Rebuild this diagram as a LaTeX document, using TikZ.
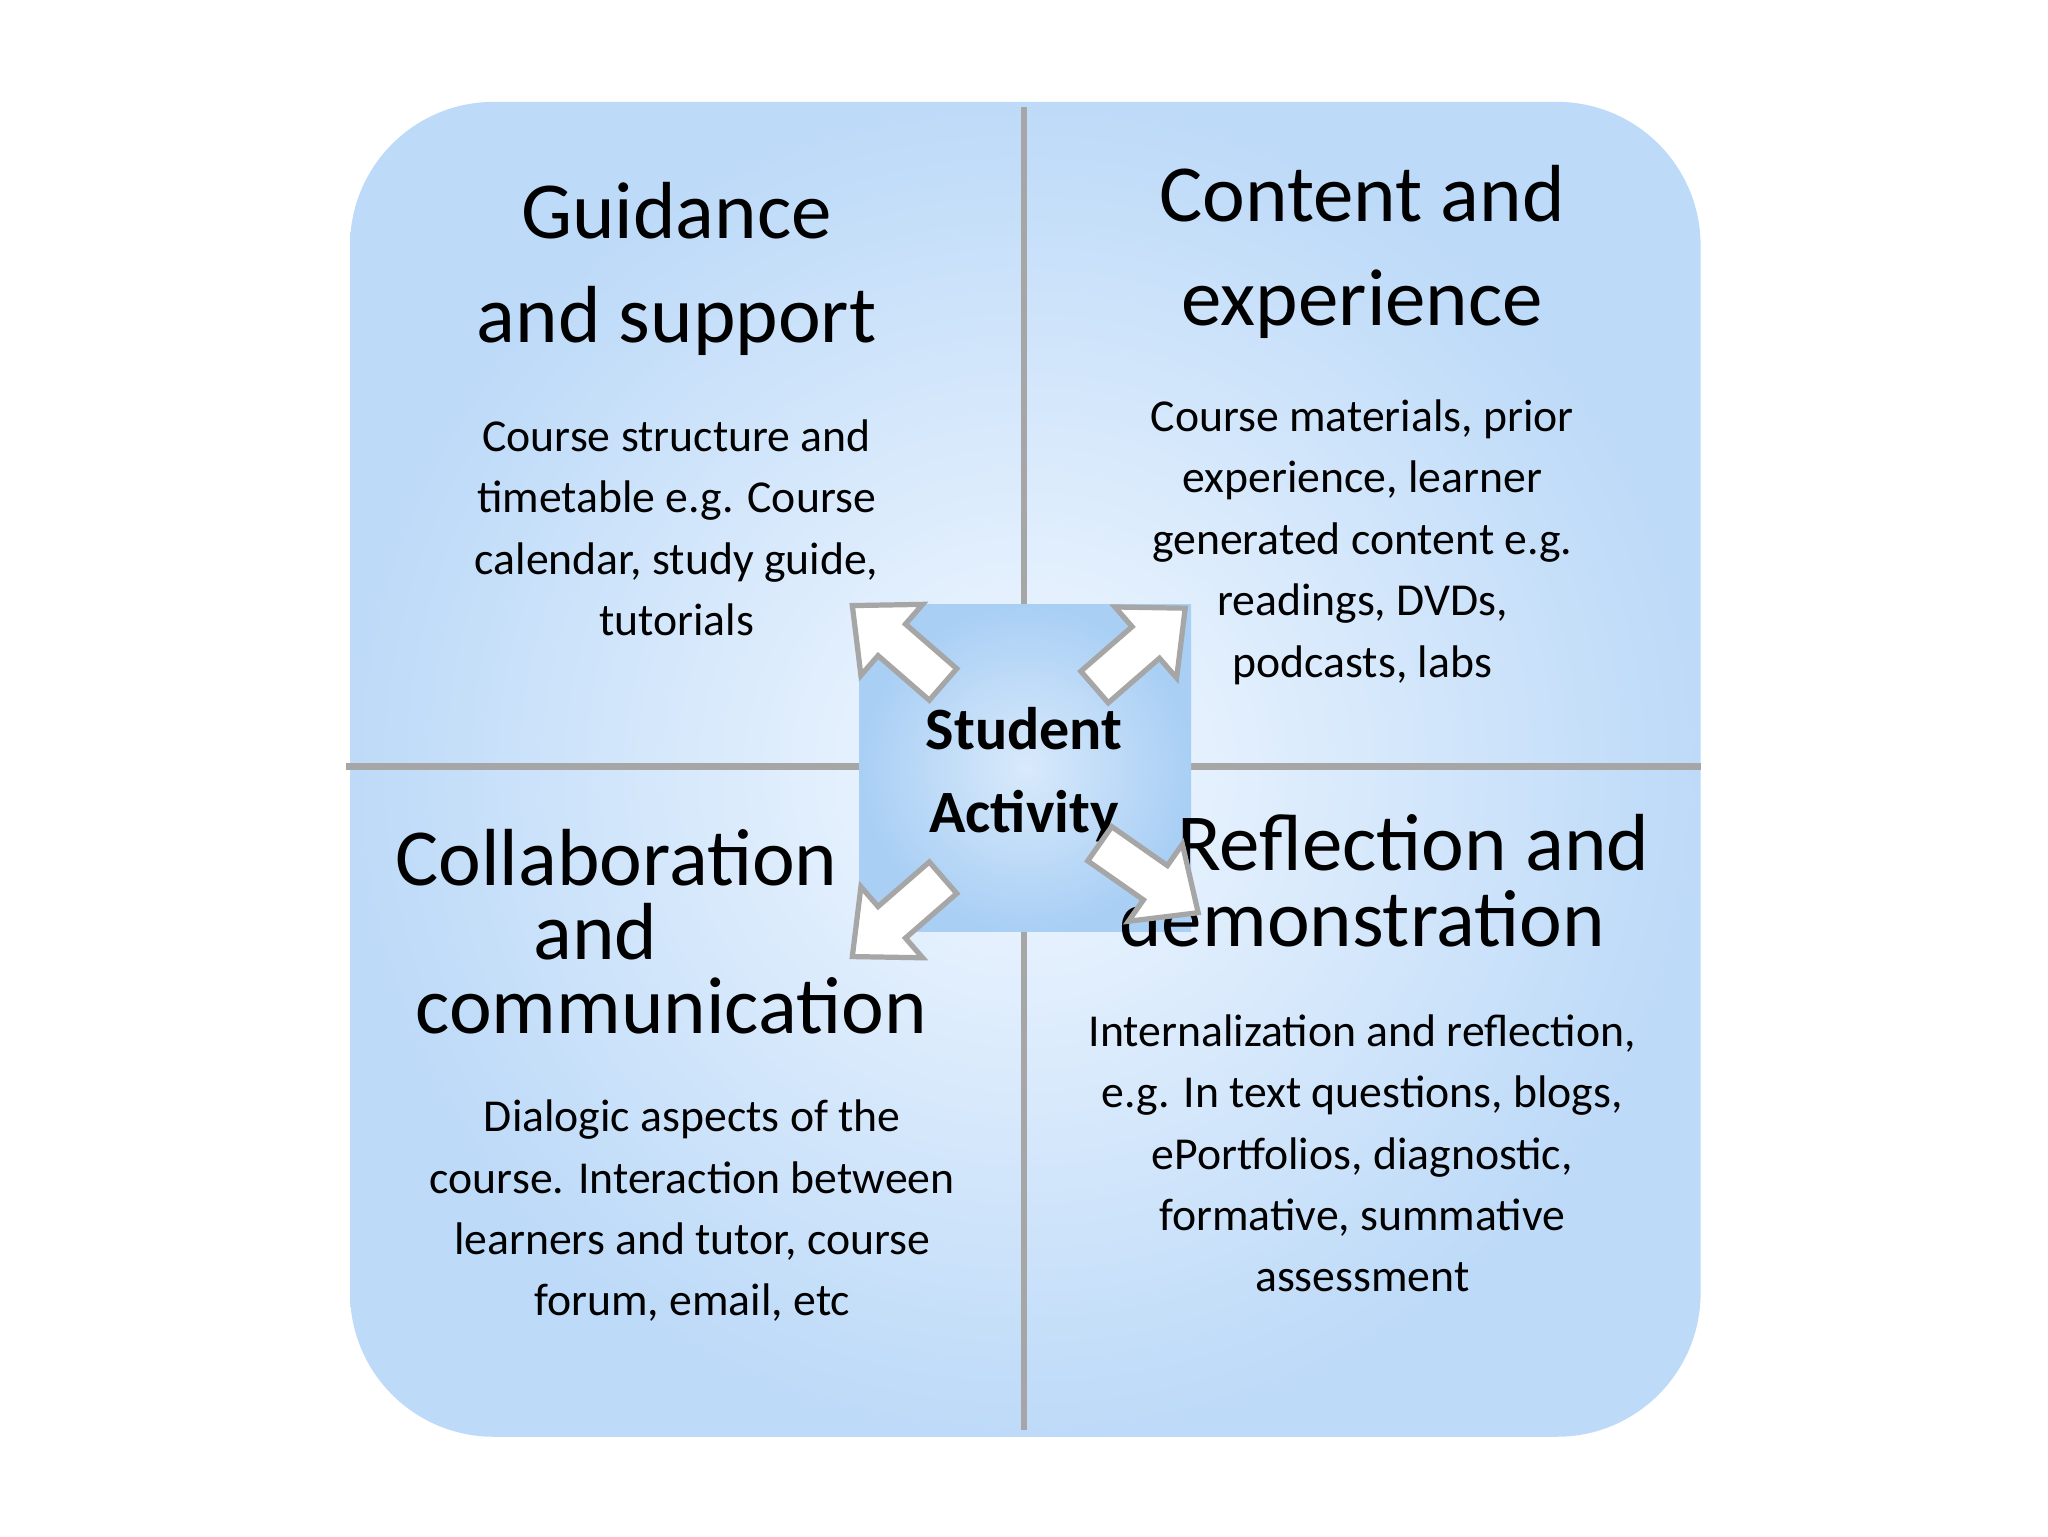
\documentclass[tikz,border=0pt]{standalone}
\usepackage{fontspec}
\setmainfont{Carlito}
\definecolor{bgblue}{HTML}{BDDAF8}
\definecolor{midblue}{HTML}{F2F8FF}
\definecolor{sqblue}{HTML}{A9CFF5}
\definecolor{divgray}{HTML}{A6A6A6}
\tikzset{
  ttl/.style={align=center,font=\fontsize{62}{80}\selectfont},
  body/.style={align=center,font=\fontsize{35}{47}\selectfont},
  divider/.style={draw=divgray,line width=5pt},
  blockarrow/.style={fill=white,draw=divgray,line width=4pt,line join=miter}
}
\begin{document}
\begin{tikzpicture}[x=1pt,y=-1pt]
\useasboundingbox (0,0) rectangle (1568,1176);
\fill[white] (0,0) rectangle (1568,1176);
\shade[inner color=midblue,outer color=bgblue,rounded corners=110pt] (268,78) rectangle (1302,1100);
\draw[divider] (784,82) -- (784,1095);
\draw[divider] (265,587) -- (1302,587);
\node (gtitle) [ttl] at (518,206) {Guidance\\and support};
\node (ctitle) [ttl] at (1043,193) {Content and\\experience};
\node (gbody) [body] at (518,404) {Course structure and\\timetable e.g. Course\\calendar, study guide,\\tutorials};
\node (cbody) [body] at (1043,415) {Course materials, prior\\experience, learner\\generated content e.g.\\readings, DVDs,\\podcasts, labs};
\node (center) [minimum width=254pt,minimum height=250pt,inner sep=0pt,
   inner color=white!55!sqblue,outer color=sqblue,shading=radial] at (785,588) {};
\node (stud) [align=center,font=\bfseries\fontsize{46}{63}\selectfont] at (784,593) {Student\\Activity};
\node (coll1) [font=\fontsize{62}{80}\selectfont] at (472,657) {Collaboration};
\node (coll2) [font=\fontsize{62}{80}\selectfont] at (456,713) {and};
\node (coll3) [font=\fontsize{62}{80}\selectfont] at (514,770) {communication};
\node (refl1) [font=\fontsize{62}{80}\selectfont] at (1082,645) {Reflection and};
\node (refl2) [font=\fontsize{62}{80}\selectfont] at (1043,703) {demonstration};
\node (colbody) [body] at (530,927) {Dialogic aspects of the\\course. Interaction between\\learners and tutor, course\\forum, email, etc};
\node (refbody) [body] at (1043,883) {Internalization and reflection,\\e.g. In text questions, blogs,\\ePortfolios, diagnostic,\\formative, summative\\assessment};
\foreach \x/\y/\a in {722/524/139, 838/526/41, 722/672/221, 842/646/-35}{
  \draw[blockarrow,shift={(\x,\y)},rotate=\a] (0,-16) -- (52,-16) -- (52,-36) -- (92,0) -- (52,36) -- (52,16) -- (0,16) -- cycle;
}
\end{tikzpicture}
\end{document}
